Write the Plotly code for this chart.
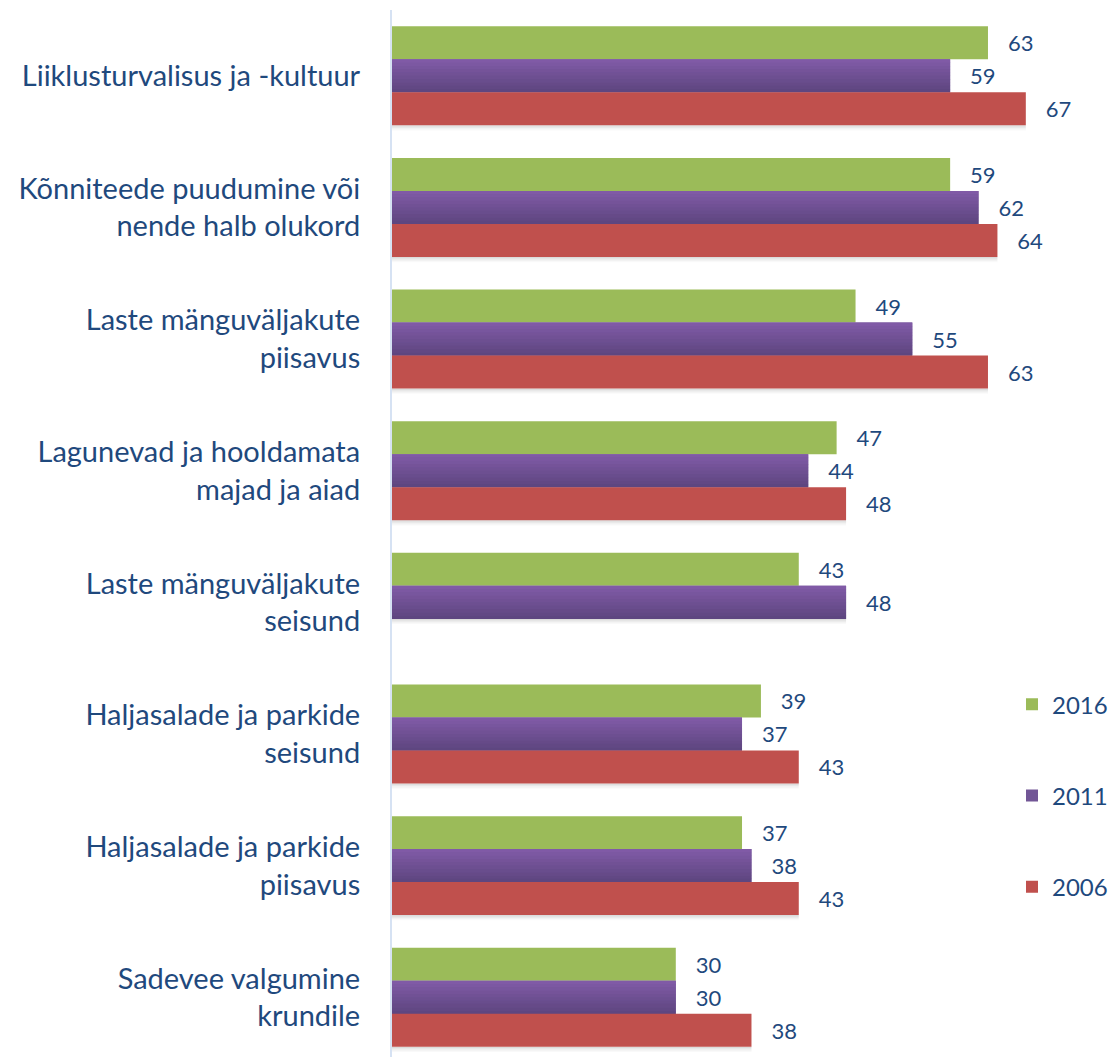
import plotly.graph_objects as go

categories = [
    "Liiklusturvalisus ja -kultuur",
    "Kõnniteede puudumine või<br>nende halb olukord",
    "Laste mänguväljakute<br>piisavus",
    "Lagunevad ja hooldamata<br>majad ja aiad",
    "Laste mänguväljakute<br>seisund",
    "Haljasalade ja parkide<br>seisund",
    "Haljasalade ja parkide<br>piisavus",
    "Sadevee valgumine<br>krundile",
]
v2016 = [63, 59, 49, 47, 43, 39, 37, 30]
v2011 = [59, 62, 55, 44, 48, 37, 38, 30]
v2006 = [67, 64, 63, 48, None, 43, 43, 38]

TXT = "#1F497D"
FONT = "Lato"
W = 0.2506

def lbl(vals):
    return ["   %d" % v if v is not None else "" for v in vals]

fig = go.Figure()

# soft shadow below the lowest bar of each group
bottom_vals = [c if c is not None else b for b, c in zip(v2011, v2006)]
bottom_off = [1.5 * W if c is not None else 0.5 * W for c in v2006]
for k, a in enumerate([0.22, 0.14, 0.08, 0.04]):
    fig.add_trace(go.Bar(y=categories, x=bottom_vals, orientation="h",
                         width=0.01, offset=[o + k * 0.01 for o in bottom_off],
                         showlegend=False, hoverinfo="skip",
                         marker=dict(color="rgba(90,90,90,%.2f)" % a, line=dict(width=0))))

common = dict(orientation="h", width=W, textposition="outside", cliponaxis=False,
              constraintext="none", textfont=dict(size=22, color=TXT, family=FONT))

fig.add_trace(go.Bar(y=categories, x=v2016, name="2016", offset=-1.5 * W,
                     marker=dict(color="#9BBB59", line=dict(width=0)),
                     text=lbl(v2016), legendgroup="a", **common))
fig.add_trace(go.Bar(y=categories, x=v2011, name="2011", offset=-0.5 * W,
                     marker=dict(color="#725696", line=dict(width=0)),
                     text=lbl(v2011), legendgroup="b", **common))
# gradient slices for purple bars
n = 10
c0 = (128, 90, 166)
c1 = (94, 70, 128)
for k in range(n):
    t = k / (n - 1)
    c = tuple(int(round(c0[i] + (c1[i] - c0[i]) * t)) for i in range(3))
    fig.add_trace(go.Bar(y=categories, x=v2011, orientation="h", width=W / n + 0.002,
                         offset=-0.5 * W + k * W / n, showlegend=False, hoverinfo="skip",
                         legendgroup="b",
                         marker=dict(color="rgb(%d,%d,%d)" % c, line=dict(width=0))))
fig.add_trace(go.Bar(y=categories, x=v2006, name="2006", offset=0.5 * W,
                     marker=dict(color="#C0504D", line=dict(width=0)),
                     text=lbl(v2006), legendgroup="c", **common))

fig.update_layout(
    width=1119, height=1057,
    barmode="overlay",
    paper_bgcolor="white", plot_bgcolor="white",
    margin=dict(l=392, r=0, t=10, b=0),
    font=dict(family=FONT, color=TXT),
    legend=dict(x=(1012 - 392) / 727, y=0.358,
                xanchor="left", yanchor="top",
                font=dict(size=24, color=TXT, family=FONT),
                tracegroupgap=57, bgcolor="rgba(0,0,0,0)"),
    xaxis=dict(range=[0, 76.85], visible=False, showgrid=False, zeroline=False,
               automargin=False),
    yaxis=dict(categoryorder="array", categoryarray=categories, range=[7.454, -0.5],
               showgrid=False, zeroline=False, showline=True, linecolor="#D6E2F3",
               linewidth=2, ticks="", ticklabelstandoff=24, automargin=False,
               tickfont=dict(size=29, color=TXT, family=FONT)),
)

fig.write_html("out.html", config={"displayModeBar": False},
               post_script="document.body.style.margin='0';")
